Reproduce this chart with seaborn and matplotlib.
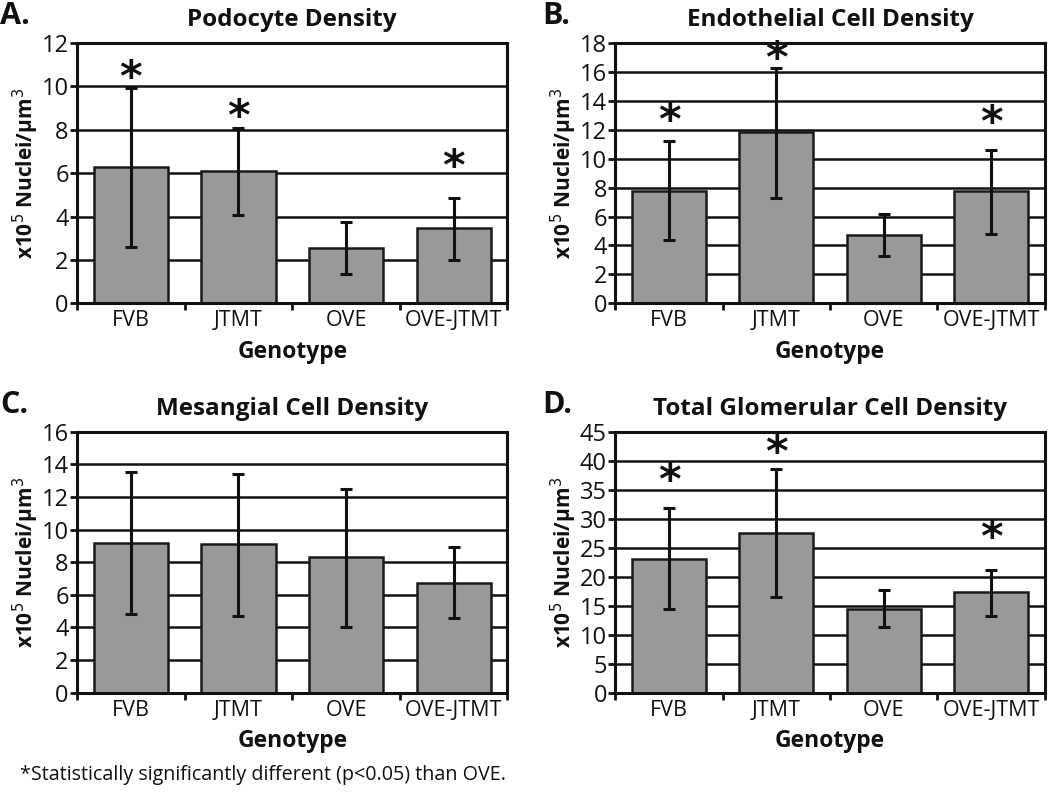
import matplotlib
matplotlib.use("Agg")
import matplotlib.pyplot as plt
import seaborn as sns
import pandas as pd
import numpy as np

sns.set_theme(style="white")
plt.rcParams['font.family'] = ['Open Sans', 'DejaVu Sans']

genotypes = ["FVB", "JTMT", "OVE", "OVE-JTMT"]

podo_mean = [6.3, 6.1, 2.55, 3.45]
podo_low = [2.6, 4.05, 1.35, 2.0]
podo_high = [9.95, 8.1, 3.75, 4.85]
podo_star = [10.6, 8.8, None, 6.5]

endo_mean = [7.8, 11.85, 4.75, 7.75]
endo_low = [4.35, 7.3, 3.25, 4.8]
endo_high = [11.2, 16.3, 6.2, 10.6]
endo_star = [12.9, 17.2, None, 12.8]

mes_mean = [9.15, 9.1, 8.3, 6.75]
mes_low = [4.8, 4.7, 4.05, 4.6]
mes_high = [13.5, 13.4, 12.5, 8.95]
mes_star = [None, None, None, None]

tot_mean = [23.1, 27.6, 14.5, 17.3]
tot_low = [14.4, 16.5, 11.3, 13.3]
tot_high = [31.9, 38.5, 17.7, 21.2]
tot_star = [37.2, 42.1, None, 27.4]

panels = [
    ("A.", "Podocyte Density", podo_mean, podo_low, podo_high, podo_star, 12, 2,
     [0.0733, 0.620, 0.410, 0.326]),
    ("B.", "Endothelial Cell Density", endo_mean, endo_low, endo_high, endo_star, 18, 2,
     [0.586, 0.620, 0.409, 0.326]),
    ("C.", "Mesangial Cell Density", mes_mean, mes_low, mes_high, mes_star, 16, 2,
     [0.0733, 0.132, 0.410, 0.327]),
    ("D.", "Total Glomerular Cell Density", tot_mean, tot_low, tot_high, tot_star, 45, 5,
     [0.586, 0.132, 0.409, 0.327]),
]

fig = plt.figure(figsize=(10.5, 7.98), dpi=100)

for letter, title, mean, low, high, star, ymax, step, rect in panels:
    ax = fig.add_axes(rect)
    df = pd.DataFrame({"Genotype": genotypes, "Value": mean})
    sns.barplot(data=df, x="Genotype", y="Value", color="#999999", saturation=1,
                edgecolor="#1a1a1a", linewidth=1.8, width=0.69, ax=ax, zorder=2)
    m = np.array(mean)
    yerr = [m - np.array(low), np.array(high) - m]
    ax.errorbar(x=np.arange(len(genotypes)), y=m, yerr=yerr, fmt="none",
                ecolor="#111111", elinewidth=2.2, capsize=4, capthick=2.2, zorder=3)
    for i, s in enumerate(star):
        if s is not None:
            ax.annotate("*", xy=(i, s), xytext=(0, -12.5), textcoords="offset points",
                        ha="center", va="baseline", fontsize=31,
                        fontweight="bold", color="#111111", zorder=4,
                        family=["DejaVu Sans"])
    ax.set_ylim(0, ymax)
    ax.set_xlim(-0.5, 3.5)
    ax.set_yticks(np.arange(0, ymax + 0.01, step))
    ax.yaxis.grid(True, color="#111111", linewidth=1.8, zorder=0)
    ax.xaxis.grid(False)
    ax.set_axisbelow(True)
    for sp in ax.spines.values():
        sp.set_color("#111111")
        sp.set_linewidth(2.2)
    ax.tick_params(axis="y", which="major", length=5, width=2, direction="out",
                   left=True, labelsize=17, color="#111111", pad=1,
                   labelcolor="#111111")
    ax.tick_params(axis="x", which="major", length=0, labelsize=15.5, pad=5,
                   labelcolor="#111111")
    ax.set_xticks(np.arange(-0.5, 3.6, 1.0), minor=True)
    ax.tick_params(axis="x", which="minor", length=5, width=2, direction="out",
                   bottom=True, color="#111111")
    ax.set_xlabel("Genotype", fontsize=16.5, fontweight="bold", color="#111111",
                  labelpad=6)
    ax.set_ylabel("x10$^{5}$ Nuclei/\u03bcm$^{3}$", fontsize=15,
                  fontweight="bold", color="#111111", labelpad=0.5)
    ax.set_title(title, fontsize=17.5, fontweight="bold", color="#111111", pad=12)
    bb = ax.get_position()
    fig.text(bb.x0 - 0.073 if letter in ("A.", "C.") else bb.x0 - 0.0695,
             bb.y1 + 0.034, letter, fontsize=22, fontweight="bold",
             color="#111111", va="center", ha="left")

fig.text(0.019, 0.029, "*Statistically significantly different (p<0.05) than OVE.",
         fontsize=14.2, color="#111111", va="center", ha="left")

fig.savefig("out.png", dpi=100)
